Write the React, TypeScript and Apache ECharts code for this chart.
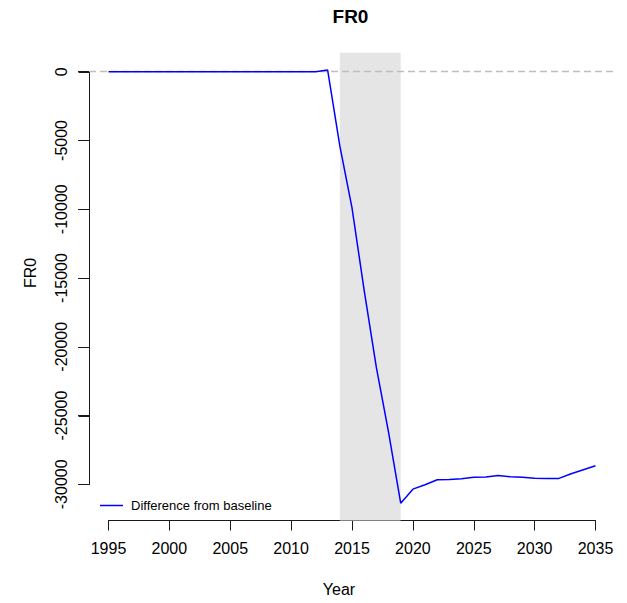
import React, { useEffect, useRef } from "react";
import * as echarts from "echarts";

const years: number[] = [];
for (let y = 1995; y <= 2035; y++) years.push(y);

const diffValues: number[] = [
  0, 0, 0, 0, 0, 0, 0, 0, 0, 0, // 1995-2004
  0, 0, 0, 0, 0, 0, 0, 0, // 2005-2012
  120, // 2013
  -5400, -9900, -15900, -21500, -26200, -31370, // 2014-2019
  -30350, -30030, -29670, -29650, -29600, -29480, -29470, -29350, // 2020-2027
  -29450, -29480, -29560, -29580, -29570, -29230, -28940, -28650, // 2028-2035
];

const xTicks = [1995, 2000, 2005, 2010, 2015, 2020, 2025, 2030, 2035];
const yTicks = [0, -5000, -10000, -15000, -20000, -25000, -30000];
const xTickStep = 5;
const yTickStep = 5000;
const shadeRange = [2014, 2019];
const baselineValue = 0;

const FONT = "'Liberation Sans', Arial, sans-serif";
const GRID_LEFT = 89;
const GRID_RIGHT = 12;
const GRID_TOP = 52.7;
const GRID_BOTTOM = 82.5;
const W = 627;
const H = 603;

export default function App() {
  const ref = useRef<HTMLDivElement>(null);
  useEffect(() => {
    document.body.style.margin = "0";
    if (!ref.current) return;
    const chart = echarts.init(ref.current, undefined, { renderer: "svg" });

    const dmin = Math.min(...diffValues);
    const dmax = Math.max(...diffValues);
    const ext = 0.04 * (dmax - dmin);
    const yMin = dmin - ext;
    const yMax = dmax + ext;
    const xExt = 0.04 * (years[years.length - 1] - years[0]);
    const xMin = years[0] - xExt;
    const xMax = years[years.length - 1] + xExt;

    const data = years.map((y, i) => [y, diffValues[i]]);

    const plotW = W - GRID_LEFT - GRID_RIGHT;
    const plotH = H - GRID_TOP - GRID_BOTTOM;
    const xPix = (v: number) => GRID_LEFT + ((v - xMin) / (xMax - xMin)) * plotW;
    const yPix = (v: number) => GRID_TOP + ((yMax - v) / (yMax - yMin)) * plotH;

    const yFirst = yTicks[0];
    const yLast = yTicks[yTicks.length - 1];
    const xFirst = xTicks[0];
    const xLast = xTicks[xTicks.length - 1];
    const axisStyle = { color: "#1a1a1a", width: 1 };

    chart.setOption({
      animation: false,
      textStyle: { fontFamily: FONT },
      grid: [
        { left: GRID_LEFT, right: GRID_RIGHT, top: GRID_TOP, bottom: GRID_BOTTOM },
        { left: GRID_LEFT, width: 20, top: yPix(yFirst), height: yPix(yLast) - yPix(yFirst) },
        { left: xPix(xFirst), width: xPix(xLast) - xPix(xFirst), top: 400, bottom: GRID_BOTTOM },
      ],
      xAxis: [
        {
          gridIndex: 0,
          type: "value",
          min: xMin,
          max: xMax,
          axisLine: { show: false, onZero: false },
          splitLine: { show: false },
          axisTick: { show: false },
          axisLabel: {
            customValues: xTicks,
            formatter: (v: number) => String(v),
            fontSize: 16,
            color: "#000",
            margin: 20,
          },
        },
        { gridIndex: 1, type: "value", min: 0, max: 1, show: false },
        {
          gridIndex: 2,
          type: "value",
          min: xFirst,
          max: xLast,
          interval: xTickStep,
          axisLine: { show: true, onZero: false, lineStyle: axisStyle },
          axisTick: { show: true, length: 10, lineStyle: axisStyle },
          axisLabel: { show: false },
          splitLine: { show: false },
        },
      ],
      yAxis: [
        {
          gridIndex: 0,
          type: "value",
          min: yMin,
          max: yMax,
          axisLine: { show: false, onZero: false },
          splitLine: { show: false },
          axisTick: { show: false },
          axisLabel: {
            customValues: yTicks,
            formatter: (v: number) => String(v),
            fontSize: 16,
            color: "#000",
            rotate: 90,
            margin: 20,
          },
        },
        {
          gridIndex: 1,
          type: "value",
          min: yLast,
          max: yFirst,
          interval: yTickStep,
          axisLine: { show: true, onZero: false, lineStyle: axisStyle },
          axisTick: { show: true, length: 11, lineStyle: axisStyle },
          axisLabel: { show: false },
          splitLine: { show: false },
        },
        { gridIndex: 2, type: "value", min: 0, max: 1, show: false },
      ],
      legend: {
        left: 100,
        top: 499,
        padding: 0,
        itemWidth: 23,
        itemHeight: 14,
        data: [{ name: "Difference from baseline", icon: "path://M0,0 L23,0 L23,1.5 L0,1.5 Z" }],
        textStyle: { fontSize: 13, color: "#000", padding: [0, 0, 0, 3] },
      },
      graphic: [
        {
          type: "text",
          x: 350.5,
          y: 16.5,
          style: {
            text: "FR0",
            font: "bold 19px Liberation Sans",
            fill: "#000",
            textAlign: "center",
            textVerticalAlign: "middle",
          },
        },
        {
          type: "text",
          x: 339,
          y: 589,
          style: {
            text: "Year",
            font: "16px Liberation Sans",
            fill: "#000",
            textAlign: "center",
            textVerticalAlign: "middle",
          },
        },
        {
          type: "text",
          x: 30,
          y: 273,
          rotation: Math.PI / 2,
          style: {
            text: "FR0",
            font: "16px Liberation Sans",
            fill: "#000",
            textAlign: "center",
            textVerticalAlign: "middle",
          },
        },
      ],
      series: [
        {
          name: "Difference from baseline",
          type: "line",
          xAxisIndex: 0,
          yAxisIndex: 0,
          data,
          symbol: "none",
          lineStyle: { color: "#0000FF", width: 1.5 },
          itemStyle: { color: "#0000FF" },
          z: 5,
          markArea: {
            silent: true,
            itemStyle: { color: "#E5E5E5" },
            data: [[{ xAxis: shadeRange[0] }, { xAxis: shadeRange[1] }]],
            z: 1,
          },
          markLine: {
            silent: true,
            symbol: "none",
            label: { show: false },
            lineStyle: { color: "#BEBEBE", type: [7, 4], width: 1.3 },
            data: [{ yAxis: baselineValue }],
          },
        },
        {
          name: "yAxisTicks",
          type: "custom",
          xAxisIndex: 0,
          yAxisIndex: 0,
          silent: true,
          clip: false,
          z: 10,
          data: yTicks.map((v) => [xMin, v]),
          renderItem: (params: any, api: any) => {
            const p = api.coord([xMin, api.value(1)]);
            const x = Math.round(p[0]) + 0.5;
            const y = Math.round(p[1]) + 0.5;
            const children: any[] = [
              {
                type: "line",
                shape: { x1: x - 11, y1: y, x2: x, y2: y },
                style: { stroke: "#1a1a1a", lineWidth: 1 },
              },
            ];
            if (params.dataIndex === 0) {
              const pb = api.coord([xMin, yLast]);
              children.push({
                type: "line",
                shape: { x1: x, y1: y, x2: x, y2: Math.round(pb[1]) + 0.5 },
                style: { stroke: "#1a1a1a", lineWidth: 1 },
              });
            }
            return { type: "group", children };
          },
        },
      ],
    });

    return () => chart.dispose();
  }, []);
  return <div ref={ref} style={{ width: W, height: H }} />;
}
